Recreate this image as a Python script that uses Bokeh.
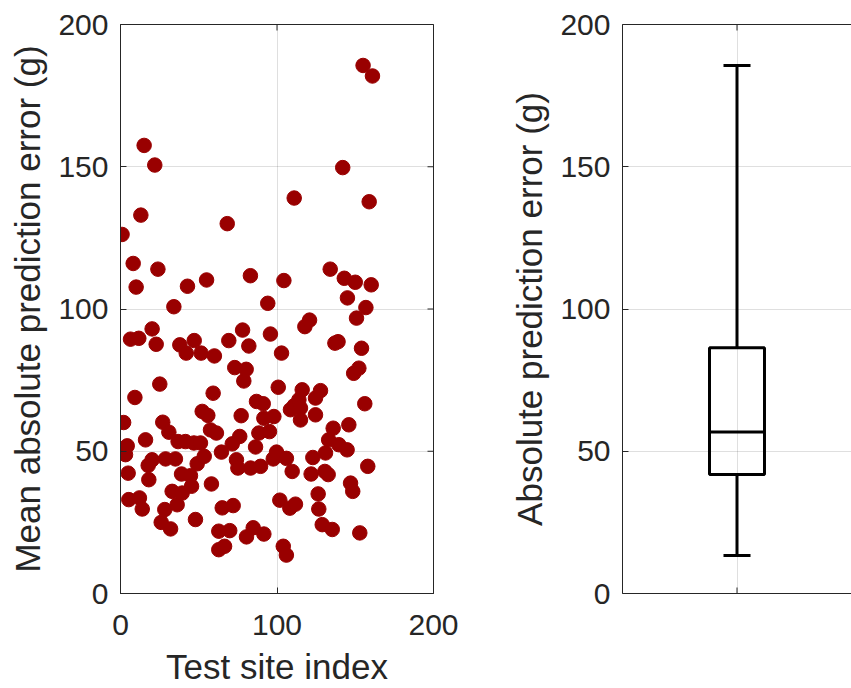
import math
from bokeh.plotting import figure
from bokeh.layouts import row
from bokeh.models import LinearAxis, FixedTicker, Range1d
from bokeh.embed import file_html
from bokeh.resources import INLINE

# ---- data: scatter (test site index vs mean absolute prediction error) ----
site_index = [1, 2, 3.2, 4.3, 4.9, 5.3, 6.4, 8.1, 9.2, 10, 11.7, 12.1, 13, 13.9, 15.1, 16, 17.7, 18.1,
              20.2, 20.2, 21.9, 22.8, 23.9, 25.1, 26, 27, 28.3, 28.8, 30.9, 32, 33, 34.1, 35.1, 36.2,
              36.8, 37.9, 39, 39.4, 41.5, 42, 42.8, 44.7, 45.4, 46.9, 47.1, 47.9, 49, 51.1, 51.5, 52.2,
              53.5, 55, 55.8, 57.5, 58.1, 59.2, 60, 61.3, 62.8, 62.8, 64.5, 65, 66.5, 68.2, 69.2, 69.8,
              71.4, 72, 73, 74.1, 75, 76.2, 77.1, 78, 78.8, 80.3, 80.5, 82, 83, 83.1, 84.8, 86.3, 86.9,
              88.4, 89.5, 91.2, 91.6, 91.6, 94.1, 95.2, 95.8, 97.6, 98, 99.7, 100.8, 101.8, 102.9, 104,
              104.4, 106, 106, 108.2, 108.6, 109.7, 111, 111, 111.8, 114, 115, 115, 116.1, 117.8, 120.8,
              121.8, 122.9, 124.6, 124.6, 126.3, 126.7, 127.8, 128.9, 130.6, 131, 132.7, 133, 134, 135.3,
              135.9, 137, 139, 139.5, 142, 143, 144.8, 145, 145.9, 147, 148.4, 149, 150, 150.8, 152.3,
              152.9, 154, 155, 156.1, 156.8, 158, 158.9, 160.2, 161]
mean_abs_error = [126.2, 60.1, 48.8, 51.9, 42.3, 33.0, 89.4, 116.0, 68.9, 107.7, 89.7, 33.6, 133.0, 29.7,
                  157.5, 54.0, 45.0, 40.0, 47.0, 93.0, 150.6, 87.6, 114.0, 73.6, 25.0, 60.2, 29.5, 47.3,
                  56.7, 22.7, 35.9, 100.8, 47.3, 31.2, 53.4, 87.4, 42.0, 35.3, 53.4, 84.5, 108.0, 41.4,
                  37.7, 52.9, 88.9, 26.0, 45.6, 52.9, 84.5, 64.0, 48.2, 110.2, 62.6, 57.5, 38.5, 70.4,
                  83.5, 56.4, 21.9, 15.4, 49.7, 30.1, 16.6, 130.0, 88.9, 22.1, 52.6, 30.9, 79.4, 47.0,
                  44.1, 55.2, 62.5, 92.6, 74.7, 78.8, 19.9, 87.0, 111.7, 44.1, 23.1, 51.5, 67.5, 56.4,
                  44.7, 66.7, 61.6, 20.9, 102.0, 56.9, 91.2, 47.3, 62.2, 49.7, 72.5, 32.8, 84.5, 16.6,
                  110.0, 13.5, 47.5, 30.0, 64.6, 42.9, 139.0, 66.0, 31.4, 68.1, 65.2, 61.0, 71.6, 93.8,
                  96.1, 42.0, 47.8, 68.7, 62.8, 35.0, 29.7, 71.3, 24.2, 42.9, 49.4, 41.8, 54.0, 114.0,
                  22.5, 58.1, 88.0, 88.5, 52.3, 149.7, 110.8, 50.5, 103.9, 59.3, 38.8, 35.9, 77.4, 109.4,
                  96.8, 79.2, 21.3, 86.2, 185.6, 66.7, 100.5, 44.7, 137.7, 108.5, 181.9]

# ---- data: box plot statistics ----
box_pos = [1]
box_low = [13.4]
box_q1 = [41.8]
box_median = [56.8]
box_q3 = [86.4]
box_high = [185.6]

y_ticks = [0, 50, 100, 150, 200]
x_ticks = [0, 100, 200]

FONT = "Liberation Sans"
TXT = "#262626"
AX = "#262626"
TICK_SIZE = "30px"
LABEL_SIZE = "35px"


def style_axis(ax):
    ax.axis_line_color = AX
    ax.axis_line_width = 1
    ax.major_tick_line_color = AX
    ax.major_tick_in = 6
    ax.major_tick_out = 0
    ax.minor_tick_line_color = None
    ax.major_label_text_font = FONT
    ax.major_label_text_color = TXT
    ax.major_label_text_font_size = TICK_SIZE
    ax.axis_label_text_font = FONT
    ax.axis_label_text_font_size = LABEL_SIZE
    ax.axis_label_text_font_style = "normal"
    ax.axis_label_text_color = TXT
    ax.axis_label_text_line_height = 1.0


def inner_ticks(p, xs, ys, vertical):
    # small inward tick marks on the top / right edges (clipped to the frame)
    p.scatter(xs, ys, marker="dash", size=12, angle=(math.pi / 2 if vertical else 0),
              line_color=AX, line_width=1, fill_color=None)


# ---------------- left: scatter ----------------
p1 = figure(width=470, height=688, output_backend="svg", toolbar_location=None,
            x_range=Range1d(0, 200), y_range=Range1d(0, 200),
            min_border_left=120, min_border_right=37, min_border_top=24, min_border_bottom=94,
            x_axis_label="Test site index", y_axis_label="Mean absolute prediction error (g)")
p1.background_fill_color = "white"
p1.border_fill_color = "white"
p1.outline_line_color = AX
p1.outline_line_width = 1
p1.xaxis.ticker = FixedTicker(ticks=x_ticks)
p1.yaxis.ticker = FixedTicker(ticks=y_ticks)
for ax in p1.xaxis + p1.yaxis:
    style_axis(ax)
p1.xaxis.major_label_standoff = 21
p1.xaxis.axis_label_standoff = 9
p1.yaxis.major_label_standoff = 12
p1.yaxis.axis_label_standoff = 8
p1.grid.grid_line_color = "#262626"
p1.grid.grid_line_alpha = 0.15
p1.grid.grid_line_width = 1

inner_ticks(p1, x_ticks, [200] * len(x_ticks), True)
inner_ticks(p1, [200] * len(y_ticks), y_ticks, False)

p1.scatter(site_index, mean_abs_error, size=14.5, marker="circle",
           fill_color="#990000", line_color="#990000")

# ---------------- right: box plot ----------------
p2 = figure(width=381, height=688, output_backend="svg", toolbar_location=None,
            x_range=Range1d(0.5, 1.5), y_range=Range1d(0, 200),
            min_border_left=152, min_border_right=0, min_border_top=24, min_border_bottom=94,
            y_axis_label="Absolute prediction error (g)")
p2.background_fill_color = "white"
p2.border_fill_color = "white"
p2.outline_line_color = None
p2.xaxis.ticker = FixedTicker(ticks=[])
p2.yaxis.ticker = FixedTicker(ticks=y_ticks)
for ax in p2.xaxis + p2.yaxis:
    style_axis(ax)
p2.yaxis.major_label_standoff = 12
p2.yaxis.axis_label_standoff = 8
top2 = LinearAxis(ticker=FixedTicker(ticks=[]))
style_axis(top2)
p2.add_layout(top2, "above")
p2.xgrid.ticker = FixedTicker(ticks=box_pos)
p2.grid.grid_line_color = "#262626"
p2.grid.grid_line_alpha = 0.15
p2.grid.grid_line_width = 1

inner_ticks(p2, box_pos, [0] * len(box_pos), True)
inner_ticks(p2, box_pos, [200] * len(box_pos), True)

box_w = 0.24
cap_w = 0.118
left_box = [x - box_w / 2 for x in box_pos]
right_box = [x + box_w / 2 for x in box_pos]
left_cap = [x - cap_w / 2 for x in box_pos]
right_cap = [x + cap_w / 2 for x in box_pos]

# whiskers
p2.segment(x0=box_pos, y0=box_q3, x1=box_pos, y1=box_high, line_color="black", line_width=3)
p2.segment(x0=box_pos, y0=box_low, x1=box_pos, y1=box_q1, line_color="black", line_width=3)
# caps
p2.segment(x0=left_cap, y0=box_high, x1=right_cap, y1=box_high, line_color="black", line_width=3)
p2.segment(x0=left_cap, y0=box_low, x1=right_cap, y1=box_low, line_color="black", line_width=3)
# box
p2.quad(left=left_box, right=right_box, bottom=box_q1, top=box_q3,
        fill_color=None, line_color="black", line_width=3)
# median
p2.segment(x0=left_box, y0=box_median, x1=right_box, y1=box_median, line_color="black", line_width=3)

layout = row(p1, p2)
open("out.html", "w").write(file_html(layout, INLINE))
